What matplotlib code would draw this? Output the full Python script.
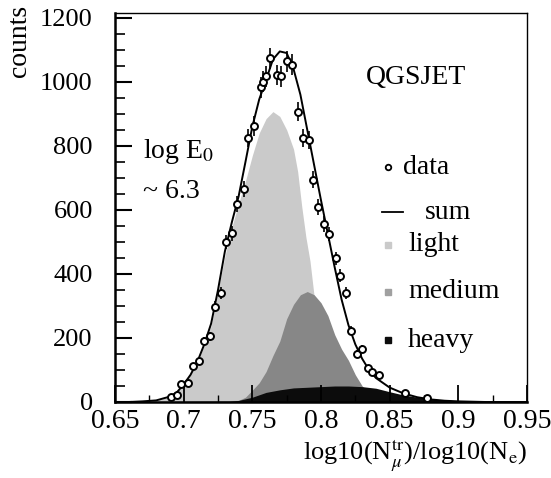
import numpy as np
import matplotlib
matplotlib.use('Agg')
import matplotlib.pyplot as plt
from matplotlib.ticker import MultipleLocator, FormatStrFormatter

plt.rcParams['font.family'] = ['Liberation Serif', 'DejaVu Serif']
plt.rcParams['mathtext.fontset'] = 'stix'

# measured points
x_data = [0.691, 0.695, 0.698, 0.703, 0.707, 0.711, 0.715, 0.719, 0.723, 0.727,
          0.731, 0.735, 0.739, 0.744, 0.747, 0.751, 0.756, 0.758, 0.760, 0.763,
          0.768, 0.771, 0.775, 0.779, 0.783, 0.787, 0.791, 0.794, 0.798, 0.802,
          0.806, 0.811, 0.814, 0.818, 0.822, 0.826, 0.830, 0.834, 0.837, 0.842,
          0.861, 0.877]
y_data = [17, 22, 55, 58, 112, 129, 190, 206, 298, 340,
          500, 527, 619, 665, 824, 862, 983, 1001, 1017, 1074,
          1022, 1017, 1064, 1053, 907, 824, 819, 694, 610, 556,
          525, 449, 394, 340, 223, 150, 166, 107, 95, 84,
          28, 13]
y_err = [5, 6, 8, 8, 11, 12, 14, 14, 17, 18,
         22, 23, 25, 26, 29, 30, 32, 32, 33, 33,
         32, 32, 33, 33, 30, 29, 29, 27, 25, 24,
         23, 21, 20, 18, 15, 12, 13, 10, 10, 9,
         5, 4]

# fitted sum
x_sum = [0.65, 0.66, 0.67, 0.68, 0.69, 0.695, 0.70, 0.705, 0.71, 0.715, 0.72,
         0.725, 0.73, 0.735, 0.74, 0.745, 0.75, 0.755, 0.76, 0.765, 0.77,
         0.775, 0.78, 0.785, 0.79, 0.795, 0.80, 0.805, 0.81, 0.815, 0.82,
         0.825, 0.83, 0.835, 0.84, 0.85, 0.86, 0.87, 0.88, 0.89, 0.90, 0.92, 0.95]
y_sum = [0, 0, 2, 5, 17, 30, 55, 85, 126, 180, 245,
         350, 470, 560, 642, 750, 860, 945, 1006, 1070, 1095,
         1090, 1040, 960, 850, 740, 630, 525, 420, 320, 240,
         180, 135, 100, 75, 45, 27, 15, 8, 4, 2, 0, 0]

# components
x_light = [0.65, 0.66, 0.67, 0.68, 0.69, 0.70, 0.71, 0.72, 0.73, 0.735, 0.74,
           0.745, 0.75, 0.755, 0.76, 0.765, 0.77, 0.775, 0.78, 0.783, 0.786,
           0.789, 0.792, 0.795, 0.80, 0.81, 0.82, 0.83, 0.84, 0.95]
y_light = [0, 0, 2, 5, 16, 52, 122, 238, 455, 545, 620,
           690, 770, 840, 885, 907, 892, 850, 790, 720, 610,
           515, 440, 330, 180, 60, 15, 3, 0, 0]

x_medium = [0.65, 0.74, 0.745, 0.75, 0.755, 0.76, 0.765, 0.77, 0.775, 0.78,
            0.785, 0.79, 0.795, 0.80, 0.805, 0.81, 0.815, 0.82, 0.825, 0.83,
            0.835, 0.84, 0.85, 0.86, 0.95]
y_medium = [0, 5, 15, 37, 60, 95, 145, 190, 260, 305,
            335, 345, 335, 310, 270, 210, 165, 130, 85, 50,
            30, 15, 5, 0, 0]

x_heavy = [0.65, 0.73, 0.74, 0.75, 0.76, 0.77, 0.78, 0.79, 0.80, 0.81, 0.82,
           0.83, 0.84, 0.85, 0.86, 0.87, 0.88, 0.89, 0.90, 0.92, 0.95]
y_heavy = [0, 0, 5, 15, 30, 38, 44, 46, 48, 50, 50,
           48, 43, 32, 22, 15, 10, 6, 4, 2, 0]

fig = plt.figure(figsize=(5.51, 4.78), dpi=100)
ax = fig.add_axes([115/551, 1-402/478, 412/551, 389/478])

ax.fill_between(x_light, y_light, color='#cacaca', lw=0)
ax.fill_between(x_medium, y_medium, color='#878787', lw=0)
ax.fill_between(x_heavy, y_heavy, color='#0c0c0c', lw=0)
ax.plot(x_sum, y_sum, color='black', lw=1.4)
ax.errorbar(x_data, y_data, yerr=y_err, fmt='o', ms=5, mfc='white', mec='black',
            mew=1.4, ecolor='black', elinewidth=1.2, capsize=0)

ax.set_xlim(0.65, 0.95)
ax.set_ylim(0, 1215)
ax.xaxis.set_major_locator(MultipleLocator(0.05))
ax.xaxis.set_minor_locator(MultipleLocator(0.025))
ax.yaxis.set_major_locator(MultipleLocator(200))
ax.yaxis.set_minor_locator(MultipleLocator(50))
ax.xaxis.set_major_formatter(FormatStrFormatter('%g'))
ax.tick_params(axis='x', which='major', direction='in', length=12, width=1.3,
               labelsize=20, pad=5, top=False)
ax.tick_params(axis='x', which='minor', direction='in', length=5, width=1.0, top=False)
ax.tick_params(axis='y', which='major', direction='in', length=12, width=1.5,
               labelsize=19, pad=16, right=False)
ax.tick_params(axis='y', which='minor', direction='in', length=7, width=1.2, right=False)
for s in ['left', 'bottom']:
    ax.spines[s].set_linewidth(1.8)
for s in ['top', 'right']:
    ax.spines[s].set_linewidth(1.0)

fig.text(0.035, 0.99, 'counts', rotation=90, ha='center', va='top', fontsize=20)
fig.text(527/551, 1-455/478, r'log10(N$_{\mu}^{\rm tr}$)/log10(N$_{\rm e}$)',
         ha='right', va='center', fontsize=19)

ax.text(0.73, 0.835, 'QGSJET', transform=ax.transAxes, ha='center', va='center',
        fontsize=20)
ax.text(0.068, 0.645, r'log E$_0$', transform=ax.transAxes, ha='left', va='center',
        fontsize=20)
ax.text(0.068, 0.54, '~ 6.3', transform=ax.transAxes, ha='left', va='center',
        fontsize=20)

# legend drawn by hand
ax.plot([0.663], [0.604], 'o', ms=4, mfc='white', mec='black', mew=1.3,
        transform=ax.transAxes, clip_on=False)
ax.text(0.699, 0.604, 'data', transform=ax.transAxes, va='center', fontsize=20)
ax.plot([0.648, 0.699], [0.488, 0.488], color='black', lw=1.3,
        transform=ax.transAxes)
ax.text(0.752, 0.488, 'sum', transform=ax.transAxes, va='center', fontsize=20)
ax.plot([0.663], [0.404], 's', ms=4, color='#cacaca', transform=ax.transAxes)
ax.text(0.711, 0.404, 'light', transform=ax.transAxes, va='center', fontsize=20)
ax.plot([0.663], [0.283], 's', ms=4, color='#a0a0a0', transform=ax.transAxes)
ax.text(0.711, 0.283, 'medium', transform=ax.transAxes, va='center', fontsize=20)
ax.plot([0.663], [0.159], 's', ms=5, color='#0c0c0c', transform=ax.transAxes)
ax.text(0.711, 0.159, 'heavy', transform=ax.transAxes, va='center', fontsize=20)

fig.savefig('out.png', dpi=100)
